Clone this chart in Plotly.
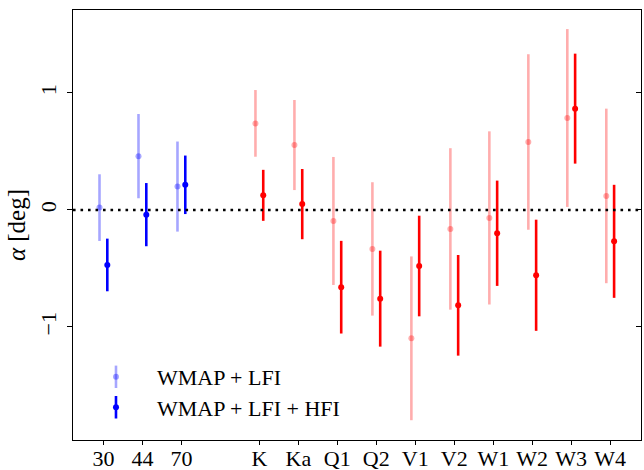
import plotly.graph_objects as go

# ---- data ----
lfi_labels = ["30", "44", "70"]
wmap_labels = ["K", "Ka", "Q1", "Q2", "V1", "V2", "W1", "W2", "W3", "W4"]

lfi_light = [0.02, 0.46, 0.20]
lfi_light_err = [0.285, 0.36, 0.385]
lfi_dark = [-0.47, -0.04, 0.215]
lfi_dark_err = [0.225, 0.27, 0.25]

wmap_light = [0.74, 0.555, -0.094, -0.333, -1.097, -0.162, -0.068, 0.581, 0.786, 0.12]
wmap_light_err = [0.285, 0.385, 0.547, 0.57, 0.70, 0.69, 0.74, 0.75, 0.76, 0.746]
wmap_dark = [0.125, 0.05, -0.66, -0.758, -0.479, -0.815, -0.199, -0.558, 0.866, -0.268]
wmap_dark_err = [0.218, 0.30, 0.396, 0.41, 0.43, 0.43, 0.45, 0.475, 0.47, 0.483]

legend_names = ["WMAP + LFI", "WMAP + LFI + HFI"]

# ---- positions ----
lfi_pos = list(range(len(lfi_labels)))
wmap_pos = [len(lfi_labels) + 1 + i for i in range(len(wmap_labels))]
off = 0.1

FONT = "Liberation Serif, Times New Roman, serif"
FS = 22
BLUE_L = "rgba(0,0,255,0.35)"
BLUE_D = "rgb(0,0,255)"
RED_L = "rgba(255,0,0,0.32)"
RED_D = "rgb(255,0,0)"


def pts(x, y, e, color, name=None, legend=None):
    return go.Scatter(
        x=x, y=y, mode="markers",
        marker=dict(color=color, size=6),
        error_y=dict(type="data", array=e, visible=True, color=color,
                     thickness=2.6, width=0),
        name=name or "", showlegend=name is not None,
        legend=legend or "legend",
    )


def legend_bar(color, legend):
    # legend-only vertical bar to mimic the error bar in the legend key
    return go.Scatter(
        x=[None], y=[None], mode="markers", name=" ", legend=legend,
        marker=dict(symbol="line-ns", size=20, color=color,
                    line=dict(color=color, width=2.6)),
        hoverinfo="skip",
    )


fig = go.Figure()
fig.add_trace(legend_bar(BLUE_L, "legend"))
fig.add_trace(legend_bar(BLUE_D, "legend2"))
fig.add_trace(pts([p - off for p in lfi_pos], lfi_light, lfi_light_err, BLUE_L,
                  legend_names[0], "legend3"))
fig.add_trace(pts([p + off for p in lfi_pos], lfi_dark, lfi_dark_err, BLUE_D,
                  legend_names[1], "legend4"))
fig.add_trace(pts([p - off for p in wmap_pos], wmap_light, wmap_light_err, RED_L))
fig.add_trace(pts([p + off for p in wmap_pos], wmap_dark, wmap_dark_err, RED_D))

fig.add_shape(type="line", xref="paper", yref="y", x0=0, x1=1, y0=0, y1=0,
              line=dict(color="black", width=2.6, dash="2.6px,4.9px"))

leg_common = dict(xanchor="left", yanchor="middle", itemwidth=72,
                  bgcolor="rgba(0,0,0,0)", font=dict(size=FS),
                  itemclick=False, itemdoubleclick=False)
leg_x = 0.0035
leg_y1 = 0.1465
leg_y2 = 0.0756

fig.update_layout(
    width=644, height=470,
    margin=dict(l=73, r=3, t=10, b=30, autoexpand=False),
    plot_bgcolor="white", paper_bgcolor="white",
    font=dict(family=FONT, size=FS, color="black"),
    xaxis=dict(range=[-0.78, 13.79], tickvals=lfi_pos + wmap_pos,
               ticktext=lfi_labels + wmap_labels, ticks="outside", ticklen=4,
               tickcolor="black", tickwidth=1, mirror=True,
               tickfont=dict(size=FS), showline=True, linecolor="black",
               linewidth=1, showgrid=False, zeroline=False, automargin=False,
               ticklabelstandoff=-5),
    yaxis=dict(range=[-1.966, 1.709], tickvals=[-1, 0, 1],
               ticktext=["\u22121", "0", "1"], ticks="outside", ticklen=5,
               tickcolor="black", tickwidth=1, mirror=True, tickangle=-90,
               tickfont=dict(size=FS), showline=True, linecolor="black",
               linewidth=1, showgrid=False, zeroline=False, automargin=False,
               ticklabelstandoff=2,
               title=dict(text="<i>α</i> [deg]", font=dict(size=25), standoff=3)),
    yaxis2=dict(range=[-1.966, 1.709], overlaying="y", side="right",
                tickvals=[-1, 0, 1], ticks="inside", ticklen=5,
                tickcolor="black", showticklabels=False, showgrid=False,
                zeroline=False, showline=False, automargin=False),
    legend=dict(x=leg_x, y=leg_y1, **leg_common),
    legend2=dict(x=leg_x, y=leg_y2, **leg_common),
    legend3=dict(x=leg_x, y=leg_y1, **leg_common),
    legend4=dict(x=leg_x, y=leg_y2, **leg_common),
)
# invisible helper so the right-hand inside ticks are drawn
fig.add_trace(go.Scatter(x=[None], y=[None], yaxis="y2", showlegend=False,
                         hoverinfo="skip"))

fig.write_html("out.html", config={"displayModeBar": False},
               post_script="document.body.style.margin='0';"
                           "document.body.style.overflow='hidden';")
